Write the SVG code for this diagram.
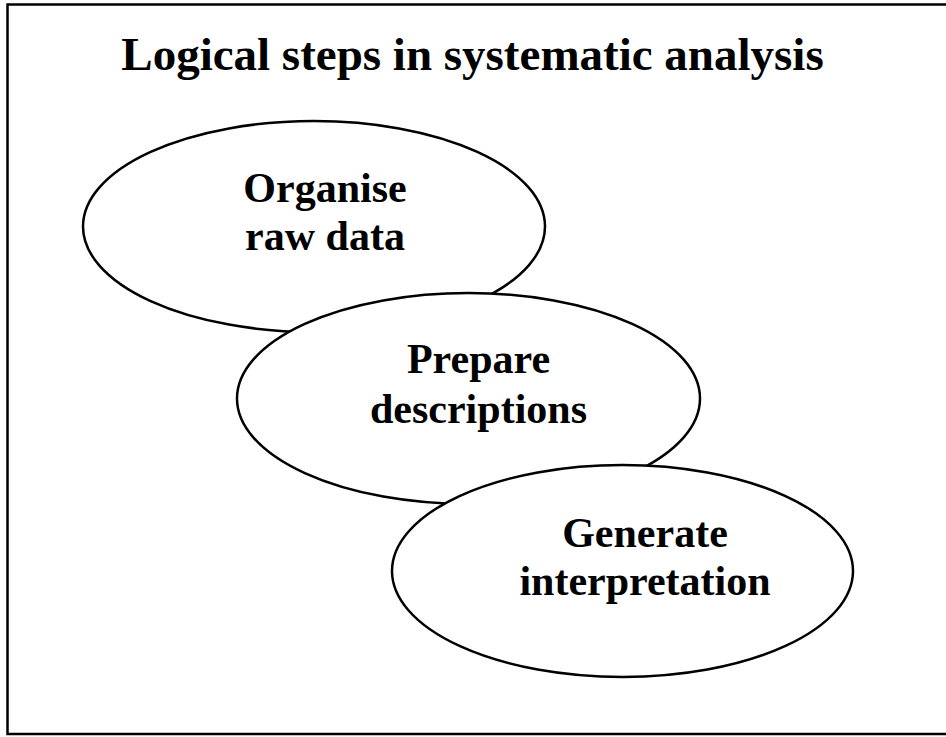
<svg xmlns="http://www.w3.org/2000/svg" width="946" height="737" viewBox="0 0 946 737">
  <style>
    .frame { fill: #ffffff; stroke: #000000; stroke-width: 2.5; }
    .node ellipse { fill: #ffffff; stroke: #000000; stroke-width: 2.5; }
    .title { font-family: "Liberation Serif", "Times New Roman", serif; font-weight: bold; font-size: 47px; fill: #000000; text-anchor: middle; }
    .label { font-family: "Liberation Serif", "Times New Roman", serif; font-weight: bold; font-size: 42px; fill: #000000; text-anchor: middle; }
  </style>
  <rect x="0" y="0" width="946" height="737" fill="#ffffff"/>
  <rect class="frame" x="7.5" y="4.5" width="950" height="729.5"/>
  <text class="title" x="472.5" y="70">Logical steps in systematic analysis</text>
  <g id="connectors"></g>
  <g id="node-organise" class="node">
    <ellipse cx="314" cy="226.5" rx="231" ry="105.5"/>
    <text class="label" x="325" y="202">Organise</text>
    <text class="label" x="325" y="250">raw data</text>
  </g>
  <g id="node-prepare" class="node">
    <ellipse cx="468.5" cy="398.5" rx="231.5" ry="105.5"/>
    <text class="label" x="478.5" y="373">Prepare</text>
    <text class="label" x="478.5" y="423">descriptions</text>
  </g>
  <g id="node-generate" class="node">
    <ellipse cx="622.5" cy="571" rx="230.5" ry="106"/>
    <text class="label" x="645" y="547">Generate</text>
    <text class="label" x="645" y="595">interpretation</text>
  </g>
</svg>
